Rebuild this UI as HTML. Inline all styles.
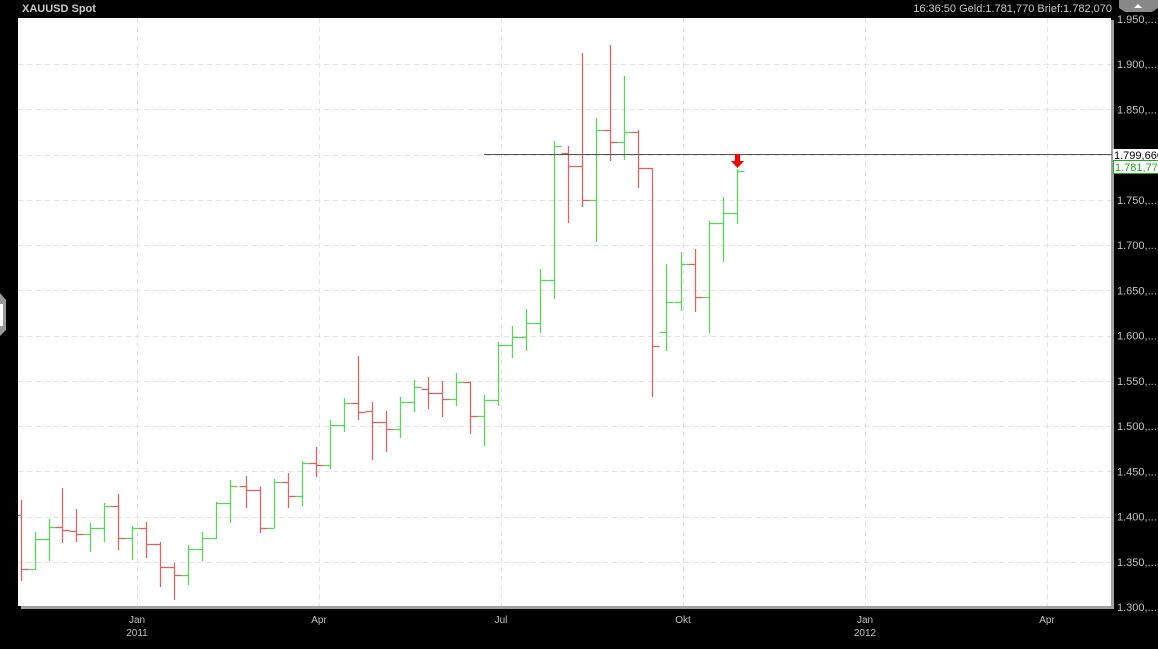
<!DOCTYPE html>
<html><head><meta charset="utf-8"><style>
html,body{margin:0;padding:0;background:#000;}
body{width:1158px;height:644px;overflow:hidden;font-family:"Liberation Sans",sans-serif;}
</style></head><body>
<svg width="1158" height="644" xmlns="http://www.w3.org/2000/svg" font-family="Liberation Sans, sans-serif">
<rect width="1158" height="644" fill="#000"/>
<rect x="21" y="606" width="1093" height="3" fill="#a0a0a0"/>
<rect x="1111" y="20" width="3" height="589" fill="#a0a0a0"/>
<rect x="18" y="18" width="1093" height="588" fill="#fff"/>
<g id="grid" stroke="#e4e4e4" stroke-width="1" stroke-dasharray="5,4"></g>
<g id="bars" stroke-width="1.3"></g>
<line x1="484" y1="154.5" x2="1112" y2="154.5" stroke="#555" stroke-width="1"/>
<rect x="735" y="154" width="5" height="8" fill="#f00"/>
<polygon points="731,161 744,161 737.5,168" fill="#f00"/>
<text x="22" y="12" font-size="11" font-weight="bold" fill="#c8c8c8">XAUUSD Spot</text>
<text x="1112" y="12" font-size="11" fill="#c8c8c8" text-anchor="end">16:36:50  Geld:1.781,770  Brief:1.782,070</text>
<path d="M1119,0 H1158 V8 L1152,12 H1125 L1119,8Z" fill="#888"/>
<polygon points="1134,8 1138,4 1142,8" fill="#fff"/>
<g id="ylab" font-size="11" fill="#c0c0c0"></g>
<rect x="1113" y="149" width="45" height="11" fill="#fff"/>
<text x="1114" y="159" font-size="11" fill="#000">1.799,660</text>
<rect x="1113.5" y="160.5" width="45" height="13" fill="#fff" stroke="#22aa22"/>
<text x="1115" y="171" font-size="11" fill="#22aa22">1.781,77</text>
<g font-size="10" fill="#c0c0c0" text-anchor="middle">
<text x="137" y="623">Jan</text><text x="137" y="636">2011</text>
<text x="319" y="623">Apr</text>
<text x="501" y="623">Jul</text>
<text x="683" y="623">Okt</text>
<text x="865" y="623">Jan</text><text x="865" y="636">2012</text>
<text x="1047" y="623">Apr</text>
</g>
<path d="M0,293 L6,300 V330 L0,336Z" fill="#999"/>
<rect x="0" y="304" width="3" height="22" fill="#fff"/>
</svg>
<script>
var NS="http://www.w3.org/2000/svg";
function el(p,t,a){var e=document.createElementNS(NS,t);for(var k in a)e.setAttribute(k,a[k]);p.appendChild(e);return e;}
var g=document.getElementById('grid'),yl=document.getElementById('ylab');
for(var k=0;k<=13;k++){var y=19+k*45.23;var v=1950-k*50;
 if(k>0&&k<13)el(g,'line',{x1:18,x2:1111,y1:Math.round(y)+.5,y2:Math.round(y)+.5});
 var t=el(yl,'text',{x:1117,y:y+4});t.textContent=(v/1000).toFixed(3).replace('.',',').replace(',','.')+',...';}
[137,319,501,683,865,1047].forEach(function(x){el(g,'line',{x1:x+.5,x2:x+.5,y1:18,y2:606});});
var d=[[20.7,500,581,515,569],[34.7,532,570,569,539],[48.7,519,561,539,527],[62.3,488,543,527,530],[76.3,509,542,531,534],[90.3,523,552,534,528],[104.3,503,542,528,506],[118.3,494,550,506,538],[132.3,526,560,538,528],[146.3,522,558,528,544],[160.3,542,587,544,567],[174.3,563,600,567,575],[188.3,545,585,575,549],[202.3,532,561,549,538],[216.3,502,539,538,503],[230.3,480,523,503,486],[245.7,476,508,486,490],[259.7,487,533,490,528],[273.7,479,528,528,482],[287.7,473,508,482,496],[301.7,461,506,496,463],[315.7,447,477,463,465],[329.7,420,469,465,425],[343.7,398,432,425,403],[357.7,356,420,403,412],[371.7,402,460,411,422],[385.7,411,452,422,429],[399.7,397,438,429,402],[413.7,380,412,402,387],[427.7,377,409,389,393],[441.7,381,417,393,399],[455.7,373,406,399,382],[470,382,434,382,416],[484,395,446,416,400],[498,342,406,400,345],[512,326,358,345,337],[526,309,351,337,323],[540,269,333,323,280],[554,141,299,280,146],[568,146,223,153,166],[582,53,207,166,200],[596,118,242,200,130],[610,45,161,130,142],[624,76,160,142,132],[638,130,188,132,168],[652,168,397,168,346],[666,264,351,332,302],[681,252,311,302,264],[695,249,312,264,297],[709,221,333,297,223],[723,197,262,223,213],[737,169,224,213,171]];
var b=document.getElementById('bars');
d.forEach(function(r){var x=Math.round(r[0])+.5,c=r[4]<r[3]?'#5fd35f':'#d96666';
 el(b,'line',{x1:x,x2:x,y1:r[1],y2:r[2],stroke:c});
 el(b,'line',{x1:Math.max(18,x-7),x2:x,y1:r[3]+.5,y2:r[3]+.5,stroke:c});
 el(b,'line',{x1:x,x2:x+7,y1:r[4]+.5,y2:r[4]+.5,stroke:c});});
</script>
</body></html>
